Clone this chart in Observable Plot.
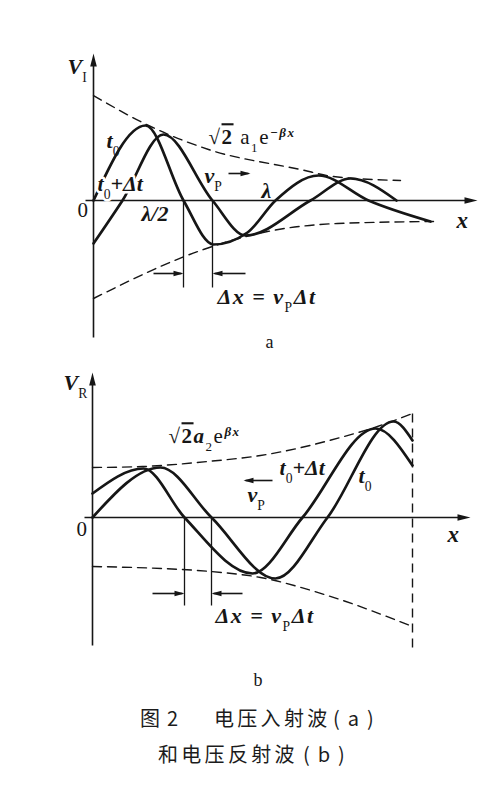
<!DOCTYPE html>
<html><head><meta charset="utf-8">
<script src="https://cdn.jsdelivr.net/npm/d3@7"></script>
<script src="https://cdn.jsdelivr.net/npm/@observablehq/plot@0.6"></script>
<style>
body{margin:0;background:#fff;width:500px;height:785px;position:relative;overflow:hidden}
#pa,#pb{position:absolute;left:0}
#pa{top:0}
#pb{top:355px}
.cap{position:absolute;font-family:"Noto Sans CJK SC";font-size:20px;line-height:22px;color:#1c1c1c;white-space:nowrap;letter-spacing:3.3px}
.par{letter-spacing:8px}
</style></head><body>
<div id="pa"></div><div id="pb"></div>
<div class="cap" style="left:140px;top:707px">图</div>
<div class="cap" style="left:167px;top:707px">2</div>
<div class="cap" style="left:214px;top:707px">电压入射波</div>
<div class="cap par" style="left:333px;top:707px">(a)</div>
<div class="cap" style="left:158px;top:743px">和电压反射波</div>
<div class="cap par" style="left:303px;top:743px">(b)</div>
<script>
// ---------- panel a : incident wave (x = distance from axis, y = height above axis) ----------
const aT0x = [0, 52, 90, 120, 154, 182, 225, 275, 337];
const aT0y = [0, 75, 0, -44, -32, 0, 25, 0, -21];
const aT1x = [0, 29, 70, 119, 152, 217, 257, 303];
const aT1y = [-43, 0, 66, 0, -35, 0, 22, 0];
const aEnvUpX = [0, 55, 115, 207, 240, 307];
const aEnvUpY = [105, 75, 51, 31, 24, 20];
const aEnvLoX = [0, 110, 174, 244, 340];
const aEnvLoY = [-98, -49, -31, -23, -21];
const aMarksX = [90, 119];           // λ/2 and shifted zero crossing
// ---------- panel b : reflected wave ----------
const bT0x = [0, 68, 119, 183, 235, 301, 320];
const bT0y = [0, 50, 0, -61, 0, 96, 77];
const bT1x = [0, 51, 92, 160, 210, 283, 320];
const bT1y = [24, 49, 0, -56, 0, 89, 52];
const bEnvUpX = [0, 50, 115, 168, 248, 285, 320];
const bEnvUpY = [50, 51, 56, 62, 80, 91, 104];
const bEnvLoX = [0, 118, 168, 235, 320];
const bEnvLoY = [-49, -54, -60, -78, -109];
const bMarksX = [92, 119];
const bEnd = 320;

// annotation texts
const labelsA = [
  {x:-26, y:134, t:"V_{I}", s:22},
  {x:13, y:60, t:"t_{0}", s:22},
  {x:115, y:63, t:"#{√}~{2}#{ a}_{1}#{e}^{−βx}", s:21},
  {x:111, y:25, t:"v_{P}", s:22},
  {x:168, y:10, t:"λ", s:22},
  {x:-16, y:-10, t:"#{0}", s:21},
  {x:48, y:-13, t:"λ/2", s:22},
  {x:363, y:-20, t:"x", s:23},
  {x:124, y:-96, t:"Δx\u00a0=\u00a0v_{P}Δt", s:22},
  {x:172, y:-142, t:"#{a}", s:18}
];
const haloA = [{x:4, y:17, t:"t_{0}+Δt", s:22}];
const labelsB = [
  {x:-29, y:135, t:"V_{R}", s:22},
  {x:76, y:81, t:"#{√}~{2}a_{2}#{e}^{βx}", s:21},
  {x:266, y:42, t:"t_{0}", s:22},
  {x:155, y:23, t:"v_{P}", s:22},
  {x:-16, y:-12, t:"#{0}", s:21},
  {x:355, y:-17, t:"x", s:23},
  {x:123, y:-98, t:"Δx\u00a0=\u00a0v_{P}Δt", s:22},
  {x:161, y:-163, t:"#{b}", s:18}
];
const haloB = [{x:187, y:50, t:"t_{0}+Δt", s:22}];

const INK = "#161616";
const pts = (xs, ys) => xs.map((x, i) => ({x, y: ys[i]}));
const head = (L, W) => ({draw(c){ c.moveTo(0,0); c.lineTo(-W, L); c.lineTo(W, L); c.closePath(); }});
const bigHead = head(13, 3.3), smallHead = head(10, 2.8);

function textMarks(labels, halo) {
  const common = {x:"x", y:"y", text:"t", fontSize:"s", textAnchor:"start",
    fontFamily:"Liberation Serif", fontWeight:"bold", fontStyle:"italic", fill:INK};
  return [
    Plot.text(halo, {...common, stroke:"white", strokeWidth:5, paintOrder:"stroke"}),
    Plot.text(labels, common)
  ];
}

function rich(svg) {
  d3.select(svg).selectAll("text").each(function() {
    const t = this.textContent;
    if (/√|Δx/.test(t)) this.style.letterSpacing = "1.5px";
    if (!/[_^~#]\{/.test(t)) return;
    this.textContent = "";
    const re = /([_^~#])\{([^}]*)\}|([^_^~#]+)/g;
    let m;
    while ((m = re.exec(t))) {
      const ts = d3.select(this).append("tspan");
      if (m[3] != null) { ts.text(m[3]); continue; }
      ts.text(m[2]);
      if (m[1] === "_") ts.style("font-size","62%").attr("baseline-shift","sub").style("font-style","normal").style("font-weight","normal");
      else if (m[1] === "^") ts.style("font-size","62%").attr("baseline-shift","super");
      else if (m[1] === "~") ts.style("text-decoration","overline").style("font-style","normal");
      else if (m[1] === "#") ts.style("font-style","normal").style("font-weight","normal");
    }
  });
  return svg;
}

function panel(o) {
  const dash = {stroke:INK, strokeWidth:1.4, strokeDasharray:"9,6", curve:"monotone-x"};
  const wave = {stroke:INK, strokeWidth:2.7, curve:"monotone-x"};
  const marks = [
    // axes
    Plot.link([{x1:0, y1:o.vBot, x2:0, y2:o.vTop - 6}], {x1:"x1", y1:"y1", x2:"x2", y2:"y2", stroke:INK, strokeWidth:1.6}),
    Plot.link([{x1:-8, y1:0, x2:o.xTip - 6, y2:0}], {x1:"x1", y1:"y1", x2:"x2", y2:"y2", stroke:INK, strokeWidth:1.6}),
    Plot.dot([{x:0, y:o.vTop}], {x:"x", y:"y", symbol:bigHead, fill:INK, rotate:0}),
    Plot.dot([{x:o.xTip, y:0}], {x:"x", y:"y", symbol:bigHead, fill:INK, rotate:90}),
    // envelopes
    Plot.line(pts(o.envUpX, o.envUpY), {x:"x", y:"y", ...dash}),
    Plot.line(pts(o.envLoX, o.envLoY), {x:"x", y:"y", ...dash}),
    // Δx construction lines
    Plot.link(o.marksX.map(x => ({x, y1:0, y2:o.markBot})), {x1:"x", x2:"x", y1:"y1", y2:"y2", stroke:INK, strokeWidth:1.3}),
    Plot.link(o.dimShafts, {x1:"x1", x2:"x2", y1:"y", y2:"y", stroke:INK, strokeWidth:1.6}),
    Plot.dot(o.dimHeads, {x:"x", y:"y", symbol:smallHead, fill:INK, rotate:"r"}),
    // waves
    Plot.line(pts(o.t0x, o.t0y), {x:"x", y:"y", ...wave}),
    Plot.line(pts(o.t1x, o.t1y), {x:"x", y:"y", ...wave}),
    ...(o.extra || []),
    ...textMarks(o.labels, o.halo)
  ];
  return rich(Plot.plot({
    width:500, height:o.height, margin:0,
    x:{domain:o.xDomain, axis:null},
    y:{domain:o.yDomain, axis:null},
    style:{background:"white", overflow:"visible"},
    marks
  }));
}

document.getElementById("pa").append(panel({
  height:355, xDomain:[-93, 407], yDomain:[-155, 200],
  vBot:-137, vTop:147, xTip:384,
  t0x:aT0x, t0y:aT0y, t1x:aT1x, t1y:aT1y,
  envUpX:aEnvUpX, envUpY:aEnvUpY, envLoX:aEnvLoX, envLoY:aEnvLoY,
  marksX:aMarksX, markBot:-87,
  dimShafts:[{x1:60, x2:88, y:-73}, {x1:152, x2:121, y:-73}, {x1:135, x2:155, y:27}],
  dimHeads:[{x:90, y:-73, r:90}, {x:119, y:-73, r:-90}, {x:157, y:27, r:90}],
  labels:labelsA, halo:haloA
}));

document.getElementById("pb").append(panel({
  height:335, xDomain:[-92, 408], yDomain:[-173, 162],
  vBot:-128, vTop:145, xTip:378,
  t0x:bT0x, t0y:bT0y, t1x:bT1x, t1y:bT1y,
  envUpX:bEnvUpX, envUpY:bEnvUpY, envLoX:bEnvLoX, envLoY:bEnvLoY,
  marksX:bMarksX, markBot:-88,
  dimShafts:[{x1:60, x2:90, y:-76}, {x1:150, x2:121, y:-76}, {x1:180, x2:153, y:37}],
  dimHeads:[{x:92, y:-76, r:90}, {x:119, y:-76, r:-90}, {x:151, y:37, r:-90}],
  extra:[Plot.link([{x:bEnd, y1:104, y2:-133}], {x1:"x", x2:"x", y1:"y1", y2:"y2", stroke:INK, strokeWidth:1.4, strokeDasharray:"9,6"})],
  labels:labelsB, halo:haloB
}));
</script>
</body></html>
